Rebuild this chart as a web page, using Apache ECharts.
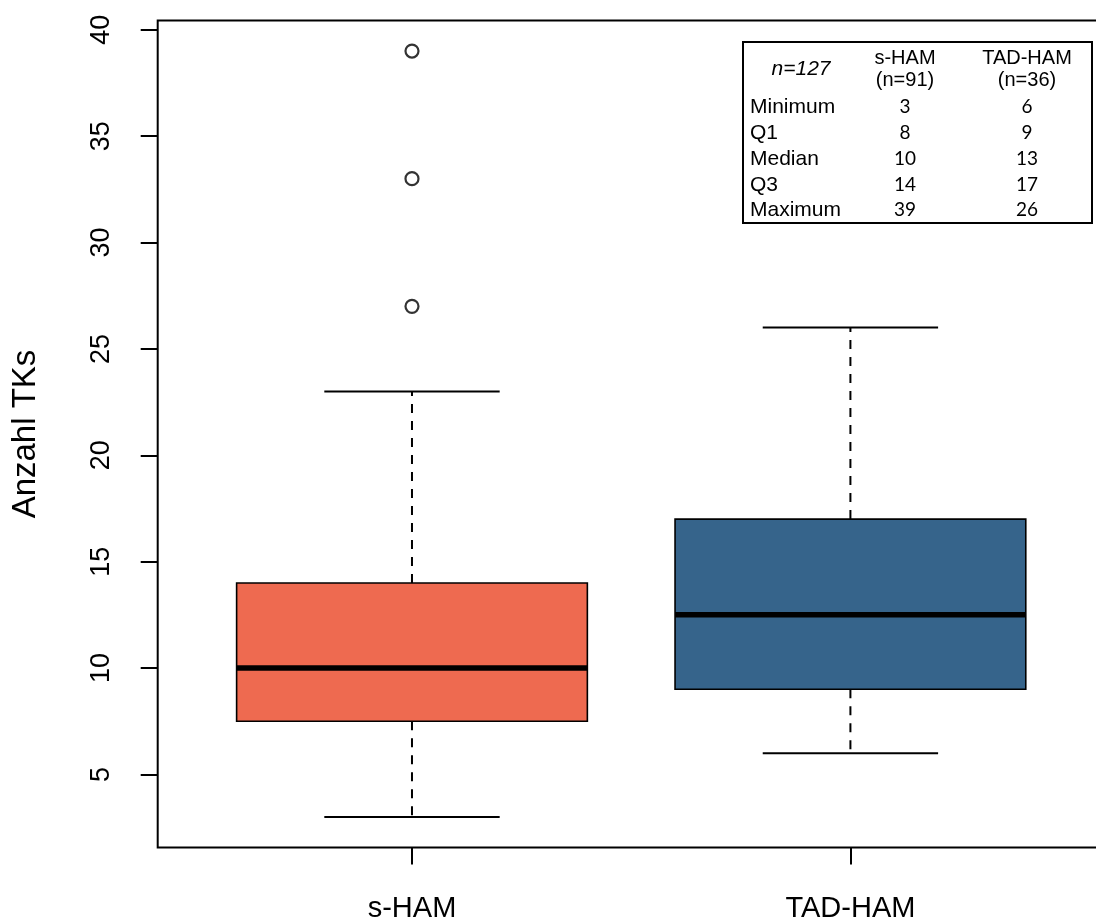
<!DOCTYPE html>
<html>
<head>
<meta charset="utf-8">
<script src="https://cdn.jsdelivr.net/npm/echarts@6/dist/echarts.min.js"></script>
<style>
  html, body { margin: 0; padding: 0; background: #fff; }
  #chart { width: 1096px; height: 923px; }
</style>
</head>
<body>
<div id="chart"></div>
<script>
// Groups and their five-number summaries (Anzahl TKs)
const groups = ['s-HAM', 'TAD-HAM'];
const groupSizes = [91, 36];
const whiskerLow = [3, 6];
const q1 = [7.5, 9];
const median = [10, 12.5];
const q3 = [14, 17];
const whiskerHigh = [23, 26];
const outliers = [[27, 33, 39], []];
const boxColors = ['#EE6A50', '#36648B'];
const yTicks = [5, 10, 15, 20, 25, 30, 35, 40];
const statRows = ['Minimum', 'Q1', 'Median', 'Q3', 'Maximum'];

const xPos = groups.map((_, i) => i + 1);
const boxData = groups.map((_, i) => [xPos[i], whiskerLow[i], q1[i], median[i], q3[i], whiskerHigh[i]]);
const outlierData = [];
outliers.forEach((list, i) => list.forEach(v => outlierData.push([xPos[i], v])));

// Summary table values, rounded as printed
const minima = groups.map((_, i) => Math.min(whiskerLow[i], ...outliers[i].filter(v => v < q1[i])));
const maxima = groups.map((_, i) => Math.max(whiskerHigh[i], ...outliers[i]));
const statValues = [minima, q1, median, q3, maxima].map(arr => arr.map(v => String(Math.round(v))));
const totalN = groupSizes.reduce((a, b) => a + b, 0);

const FONT = '"Liberation Sans", Arial, Helvetica, sans-serif';
const NUM_FONT = 'Lato, "Open Sans", sans-serif';

// Table layout
const tbl = { x: 743, y: 42, w: 349, h: 181 };
const colX = [905, 1027];
const labelX = 750;
const rowY = [107, 133, 159, 185, 210];

const tableEls = [
  { type: 'rect', shape: { x: tbl.x, y: tbl.y, width: tbl.w, height: tbl.h },
    style: { fill: '#fff', stroke: '#000', lineWidth: 2 } },
  { type: 'text', x: 801, y: 69,
    style: { text: 'n=' + totalN, fontSize: 21, fontStyle: 'italic', fontFamily: FONT, fill: '#000', align: 'center', verticalAlign: 'middle' } }
];
groups.forEach((g, i) => {
  tableEls.push({ type: 'text', x: colX[i], y: 58,
    style: { text: g, fontSize: 20, fontFamily: FONT, fill: '#000', align: 'center', verticalAlign: 'middle' } });
  tableEls.push({ type: 'text', x: colX[i], y: 80,
    style: { text: '(n=' + groupSizes[i] + ')', fontSize: 20, fontFamily: FONT, fill: '#000', align: 'center', verticalAlign: 'middle' } });
});
statRows.forEach((r, k) => {
  tableEls.push({ type: 'text', x: labelX, y: rowY[k],
    style: { text: r, fontSize: 21, fontFamily: FONT, fill: '#000', align: 'left', verticalAlign: 'middle' } });
  groups.forEach((_, i) => {
    tableEls.push({ type: 'text', x: colX[i], y: rowY[k],
      style: { text: statValues[k][i], fontSize: 19, fontFamily: NUM_FONT, fill: '#000', align: 'center', verticalAlign: 'middle' } });
  });
});

const chart = echarts.init(document.getElementById('chart'), null, { renderer: 'canvas' });

chart.setOption({
  backgroundColor: '#fff',
  animation: false,
  grid: {
    left: 157.7, top: 20.4, width: 947, height: 827.2,
    outerBoundsMode: 'none', containLabel: false,
    show: true, borderColor: '#000', borderWidth: 2, backgroundColor: 'transparent'
  },
  xAxis: {
    type: 'value', min: 0.42, max: 2.58,
    axisLine: { show: false },
    splitLine: { show: false },
    axisTick: { show: true, customValues: xPos, length: 17, lineStyle: { color: '#000', width: 2 } },
    axisLabel: {
      customValues: xPos, margin: 47, fontSize: 29, fontFamily: FONT, color: '#000',
      formatter: v => groups[Math.round(v) - 1]
    }
  },
  yAxis: {
    type: 'value', min: 1.56, max: 40.44,
    axisLine: { show: false },
    splitLine: { show: false },
    axisTick: { show: true, customValues: yTicks, length: 17, lineStyle: { color: '#000', width: 2 } },
    axisLabel: { customValues: yTicks, rotate: 90, margin: 43, fontSize: 27, fontFamily: FONT, color: '#000' },
    name: 'Anzahl TKs', nameLocation: 'middle', nameRotate: 90, nameGap: 115,
    nameTextStyle: { fontSize: 33, fontFamily: FONT, color: '#000' }
  },
  series: [
    {
      type: 'custom',
      data: boxData,
      clip: false,
      renderItem(params, api) {
        const i = params.dataIndex;
        const x = api.value(0);
        const half = 0.4, capHalf = 0.2;
        const [xl, yq1] = api.coord([x - half, api.value(2)]);
        const [xr, yq3] = api.coord([x + half, api.value(4)]);
        const [xc, ylo] = api.coord([x, api.value(1)]);
        const yhi = api.coord([x, api.value(5)])[1];
        const ymed = api.coord([x, api.value(3)])[1];
        const cl = api.coord([x - capHalf, 0])[0];
        const cr = api.coord([x + capHalf, 0])[0];
        const dash = { stroke: '#000', lineWidth: 2, lineDash: [9, 8] };
        const solid = { stroke: '#000', lineWidth: 2 };
        return {
          type: 'group',
          children: [
            { type: 'line', shape: { x1: xc, y1: yq3, x2: xc, y2: yhi }, style: dash },
            { type: 'line', shape: { x1: xc, y1: yq1, x2: xc, y2: ylo }, style: dash },
            { type: 'line', shape: { x1: cl, y1: yhi, x2: cr, y2: yhi }, style: solid },
            { type: 'line', shape: { x1: cl, y1: ylo, x2: cr, y2: ylo }, style: solid },
            { type: 'rect', shape: { x: xl, y: yq3, width: xr - xl, height: yq1 - yq3 },
              style: { fill: boxColors[i], stroke: '#000', lineWidth: 1.6 } },
            { type: 'line', shape: { x1: xl, y1: ymed, x2: xr, y2: ymed },
              style: { stroke: '#000', lineWidth: 5.5 } }
          ]
        };
      }
    },
    {
      type: 'scatter',
      data: outlierData,
      symbol: 'circle',
      symbolSize: 13,
      itemStyle: { color: '#fff', borderColor: '#000', borderWidth: 2.2 }
    }
  ],
  graphic: { elements: tableEls }
});
</script>
</body>
</html>
